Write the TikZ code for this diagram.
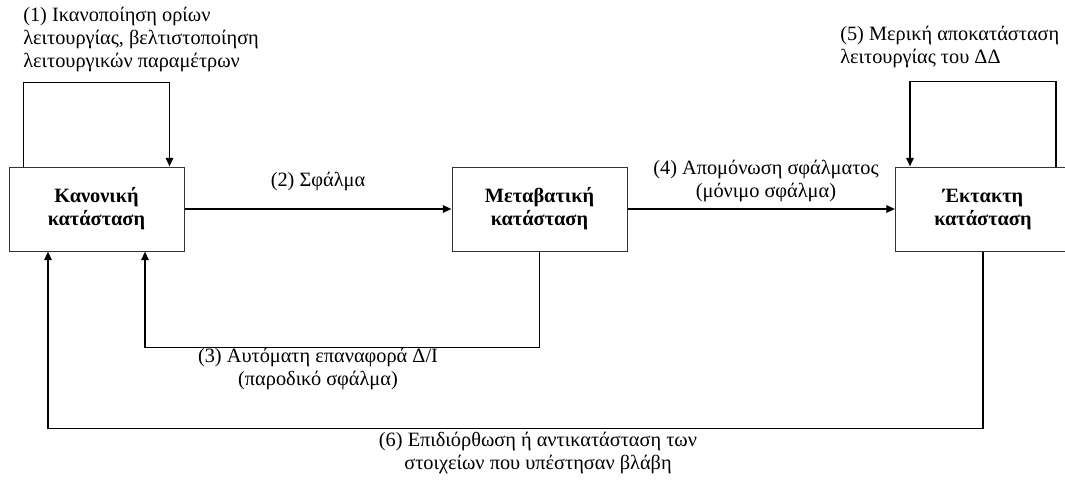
\documentclass[tikz,border=0pt]{standalone}
\usepackage{fontspec}
\setmainfont{Liberation Serif}
\usetikzlibrary{arrows.meta}
\tikzset{
  box/.style={draw=black!80, line width=0.75pt, rectangle, minimum width=131.25pt, minimum height=63pt, inner sep=0pt, align=center, font=\fontsize{15.25pt}{17.25pt}\selectfont\bfseries},
  arr/.style={line width=1.4pt, -{Triangle[length=6.5pt,width=5.5pt]}},
  lab/.style={inner sep=0pt, font=\fontsize{15.25pt}{17.25pt}\selectfont},
}
\begin{document}
\begin{tikzpicture}[x=0.75pt,y=-0.75pt]
\useasboundingbox (0,0) rectangle (1065,479);
\clip (0,0) rectangle (1065,479);
\node[box] (b1) at (96.5,209) {Κανονική\\κατάσταση};
\node[box] (b2) at (539.5,209) {Μεταβατική\\κατάσταση};
\node[box] (b3) at (983,209) {Έκτακτη\\κατάσταση};

\draw[arr] ([xshift=11.25pt]b1.north west) -- ++(0,-84) -| ([xshift=-11.25pt]b1.north east);
\draw[arr] ([xshift=-11.25pt]b3.north east) -- ++(0,-85) -| ([xshift=11.25pt]b3.north west);
\draw[arr] (b1.east) -- (b2.west);
\draw[arr] (b2.east) -- (b3.west);
\draw[arr] (b2.south) -- ++(0,96) -| ([xshift=36.375pt]b1.south);
\draw[arr] (b3.south) -- ++(0,177) -| ([xshift=-36.375pt]b1.south);

\node[lab, anchor=west, align=left] (l1) at (23,39.5) {(1) Ικανοποίηση ορίων\\λειτουργίας, βελτιστοποίηση\\λειτουργικών παραμέτρων};
\node[lab, anchor=west, align=left] (l5) at (840,46.5) {(5) Μερική αποκατάσταση\\λειτουργίας του ΔΔ};
\node[lab] (l2) at (318,182) {(2) Σφάλμα};
\node[lab, align=center] (l4) at (766,181) {(4) Απομόνωση σφάλματος\\(μόνιμο σφάλμα)};
\node[lab, align=center] (l3) at (318,369) {(3) Αυτόματη επαναφορά Δ/Ι\\(παροδικό σφάλμα)};
\node[lab, align=center] (l6) at (538,453) {(6) Επιδιόρθωση ή αντικατάσταση των\\στοιχείων που υπέστησαν βλάβη};
\end{tikzpicture}
\end{document}
